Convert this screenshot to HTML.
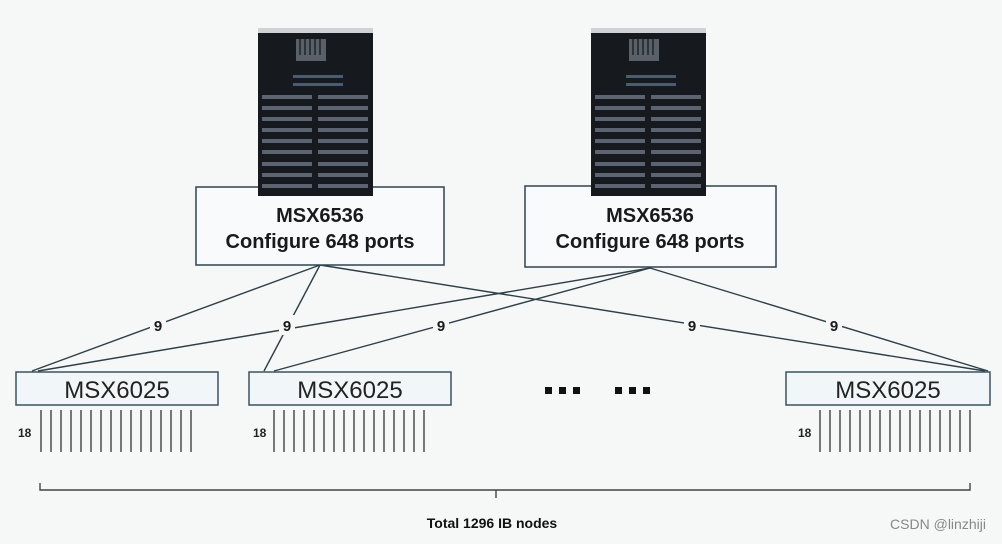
<!DOCTYPE html>
<html><head><meta charset="utf-8"><style>
html,body{margin:0;padding:0;background:#f6f7f7;}
svg{display:block;font-family:"Liberation Sans",sans-serif;}
</style></head><body>
<svg width="1002" height="544" viewBox="0 0 1002 544" xmlns="http://www.w3.org/2000/svg">
<rect width="1002" height="544" fill="#f6f7f7"/>
<defs>
<g id="rack">
<rect x="0" y="-3" width="115" height="5" fill="#cfd3d6"/>
<rect x="0" y="2" width="115" height="163" fill="#16191d"/>
<rect x="38" y="8" width="30" height="22" fill="#5a6068"/>
<g stroke="#20242a" stroke-width="1.5"><line x1="42" y1="8" x2="42" y2="24"/><line x1="47" y1="8" x2="47" y2="24"/><line x1="52" y1="8" x2="52" y2="24"/><line x1="57" y1="8" x2="57" y2="24"/><line x1="62" y1="8" x2="62" y2="24"/></g>
<rect x="35" y="44" width="50" height="3" fill="#4a5a78"/>
<rect x="35" y="52" width="50" height="3" fill="#4a5a78"/>
<g fill="#5b6470">
<rect x="4" y="64" width="50" height="4"/><rect x="60" y="64" width="50" height="4"/>
<rect x="4" y="75" width="50" height="4"/><rect x="60" y="75" width="50" height="4"/>
<rect x="4" y="86" width="50" height="4"/><rect x="60" y="86" width="50" height="4"/>
<rect x="4" y="97" width="50" height="4"/><rect x="60" y="97" width="50" height="4"/>
<rect x="4" y="108" width="50" height="4"/><rect x="60" y="108" width="50" height="4"/>
<rect x="4" y="119" width="50" height="4"/><rect x="60" y="119" width="50" height="4"/>
<rect x="4" y="131" width="50" height="4"/><rect x="60" y="131" width="50" height="4"/>
<rect x="4" y="142" width="50" height="4"/><rect x="60" y="142" width="50" height="4"/>
<rect x="4" y="153" width="50" height="4"/><rect x="60" y="153" width="50" height="4"/>
</g>
</g>
</defs>
<!-- connectors -->
<g stroke="#2d3f48" stroke-width="1.4" fill="none">
<line x1="320" y1="265" x2="32" y2="371"/>
<line x1="320" y1="265" x2="264" y2="371"/>
<line x1="320" y1="265" x2="985" y2="371"/>
<line x1="650" y1="268" x2="38" y2="371"/>
<line x1="650" y1="268" x2="274" y2="371"/>
<line x1="650" y1="268" x2="988" y2="371"/>
</g>
<g font-weight="bold" font-size="15" text-anchor="middle" fill="#1a1a1a">
<rect x="150" y="315" width="16" height="20" fill="#f6f7f7"/><text x="158" y="331">9</text>
<rect x="279" y="315" width="16" height="20" fill="#f6f7f7"/><text x="287" y="331">9</text>
<rect x="433" y="315" width="16" height="20" fill="#f6f7f7"/><text x="441" y="331">9</text>
<rect x="684" y="315" width="16" height="20" fill="#f6f7f7"/><text x="692" y="331">9</text>
<rect x="826" y="315" width="16" height="20" fill="#f6f7f7"/><text x="834" y="331">9</text>
</g>
<!-- top switches -->
<rect x="196" y="187" width="248" height="78" fill="#f8fafb" stroke="#2d4450" stroke-width="1.5"/>
<use href="#rack" x="258" y="31"/>
<text x="320" y="222" font-size="20" font-weight="bold" text-anchor="middle" fill="#1a1a1a">MSX6536</text>
<text x="320" y="248" font-size="20" font-weight="bold" text-anchor="middle" fill="#1a1a1a">Configure 648 ports</text>
<rect x="525" y="186" width="251" height="81" fill="#f8fafb" stroke="#2d4450" stroke-width="1.5"/>
<use href="#rack" x="591" y="31"/>
<text x="650" y="222" font-size="20" font-weight="bold" text-anchor="middle" fill="#1a1a1a">MSX6536</text>
<text x="650" y="248" font-size="20" font-weight="bold" text-anchor="middle" fill="#1a1a1a">Configure 648 ports</text>
<!-- leaf switches -->
<g fill="#f1f6f9" stroke="#3a5462" stroke-width="1.5">
<rect x="16" y="372" width="202" height="33"/>
<rect x="249" y="372" width="202" height="33"/>
<rect x="786" y="372" width="204" height="33"/>
</g>
<g font-size="24" text-anchor="middle" fill="#222">
<text x="117" y="398">MSX6025</text>
<text x="350" y="398">MSX6025</text>
<text x="888" y="398">MSX6025</text>
</g>
<g stroke-width="1.3">
<g stroke="#333"><path d="M41 410V452M51 410V452M61 410V452M71 410V452M81 410V452M91 410V452M101 410V452M111 410V452M121 410V452M131 410V452M141 410V452M151 410V452M161 410V452M171 410V452M181 410V452M191 410V452"/></g>
<g stroke="#333"><path d="M274 410V452M284 410V452M294 410V452M304 410V452M314 410V452M324 410V452M334 410V452M344 410V452M354 410V452M364 410V452M374 410V452M384 410V452M394 410V452M404 410V452M414 410V452M424 410V452"/></g>
<g stroke="#333"><path d="M820 410V452M830 410V452M840 410V452M850 410V452M860 410V452M870 410V452M880 410V452M890 410V452M900 410V452M910 410V452M920 410V452M930 410V452M940 410V452M950 410V452M960 410V452M970 410V452"/></g>
</g>
<g font-size="12" font-weight="bold" fill="#222">
<text x="18" y="437">18</text><text x="253" y="437">18</text><text x="798" y="437">18</text>
</g>
<g fill="#111">
<rect x="545" y="387" width="7" height="7"/><rect x="559" y="387" width="7" height="7"/><rect x="573" y="387" width="7" height="7"/>
<rect x="615" y="387" width="7" height="7"/><rect x="629" y="387" width="7" height="7"/><rect x="643" y="387" width="7" height="7"/>
</g>
<!-- bracket -->
<path d="M40 483V490H970V483M496 490V498" stroke="#444" stroke-width="1.4" fill="none"/>
<text x="492" y="528" font-size="14" font-weight="bold" text-anchor="middle" fill="#111">Total 1296 IB nodes</text>
<text x="938" y="529" font-size="14" text-anchor="middle" fill="#888">CSDN @linzhiji</text>
</svg>
</body></html>
